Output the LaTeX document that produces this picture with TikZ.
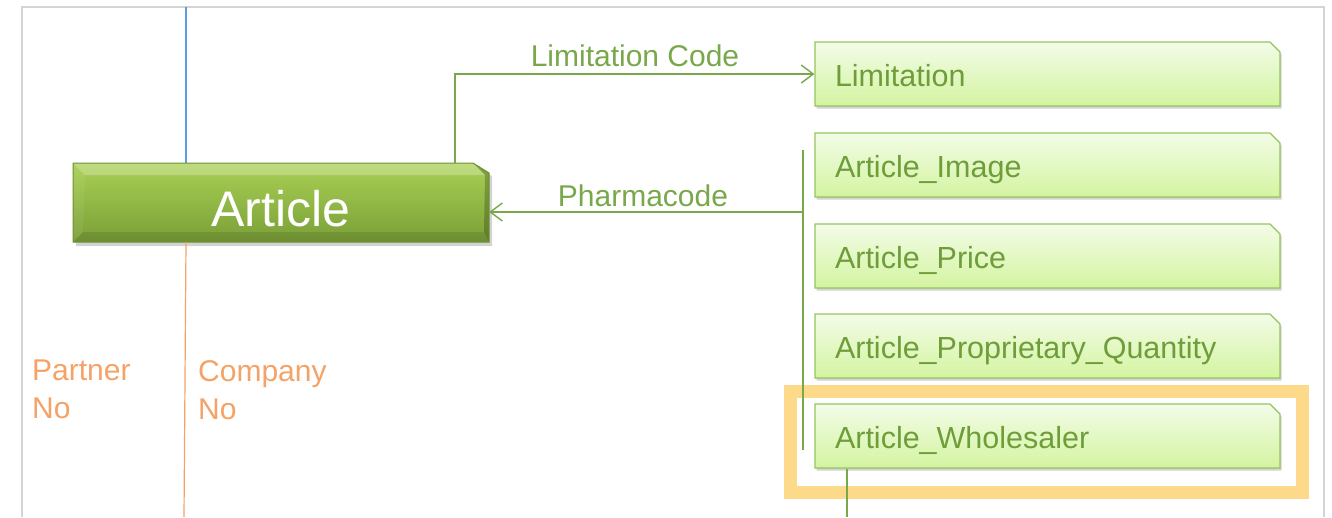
\documentclass[tikz,border=0pt]{standalone}
\usepackage{fontspec}
\setmainfont{Liberation Sans}
\usetikzlibrary{shapes.misc,shadows,arrows.meta}
\definecolor{frameC}{HTML}{D4D4D4}
\definecolor{boxTop}{HTML}{F3FCE8}
\definecolor{boxBot}{HTML}{D3F4A0}
\definecolor{boxLine}{HTML}{94C45E}
\definecolor{boxText}{HTML}{6F9D3A}
\definecolor{connC}{HTML}{78A84A}
\definecolor{artTop}{HTML}{A9D055}
\definecolor{artBot}{HTML}{7A9F37}
\definecolor{artLine}{HTML}{6C922F}
\definecolor{blueC}{HTML}{5D9CE2}
\definecolor{orangeC}{HTML}{F4A266}
\definecolor{hiC}{HTML}{FDDA8A}
\newcommand{\boxtext}[1]{\makebox[425pt][l]{\smash{\raisebox{-12.5pt}{#1}}}}
\tikzset{
  tablebox/.style={chamfered rectangle, chamfered rectangle corners=north east,
    chamfered rectangle xsep=11pt, chamfered rectangle ysep=10pt,
    draw=boxLine, line width=1.2pt, top color=boxTop, bottom color=boxBot,
    minimum width=465pt, minimum height=64pt, inner xsep=20pt, inner ysep=0pt,
    text=boxText, font=\fontsize{30.5}{36}\selectfont,
    drop shadow={opacity=0.35, shadow xshift=1.5pt, shadow yshift=-2.5pt}},
  conn/.style={draw=connC, line width=1.4pt},
  arr/.style={conn, -{Straight Barb[length=12pt,width=18pt,line width=1.4pt]}},
  lbl/.style={text=connC, font=\fontsize{30}{36}\selectfont, inner sep=0pt},
  olbl/.style={text=orangeC, font=\fontsize{30}{38}\selectfont, align=left, anchor=north west, inner sep=0pt},
}
\begin{document}
\begin{tikzpicture}[x=1pt,y=-1pt]
\useasboundingbox (0,0) rectangle (1332,517);
% frame
\draw[frameC, line width=1.5pt] (22,517) -- (22,7) -- (1324,7) -- (1324,517);
% highlight
\draw[hiC, line width=13pt] (790.5,391) rectangle (1302.5,492);
% main Article box
\fill[gray, opacity=0.35] (76,166) -- (476,166) -- (492,176) -- (492,246) -- (76,246) -- cycle;
\shade[top color=artTop, bottom color=artBot] (73,163) -- (473,163) -- (489,173) -- (489,242) -- (73,242) -- cycle;
\fill[white, opacity=0.25] (73,163) -- (473,163) -- (485,175) -- (85,175) -- cycle;
\fill[black, opacity=0.22] (473,163) -- (489,173) -- (489,242) -- (484,232) -- (485,175) -- cycle;
\fill[black, opacity=0.10] (73,242) -- (489,242) -- (484,232) -- (83,232) -- cycle;
\fill[white, opacity=0.06] (73,163) -- (85,175) -- (83,232) -- (73,242) -- cycle;
\draw[artLine, line width=1pt] (73,163) -- (473,163) -- (489,173) -- (489,242) -- (73,242) -- cycle;
\node[minimum width=416pt, minimum height=79pt, inner sep=0pt, text=white,
  font=\fontsize{50}{60}\selectfont] (article) at (281,202.5) {\smash{\raisebox{-23.5pt}{Article}}};
% right boxes
\node[tablebox] (lim) at (1047.5,74)  {\boxtext{Limitation}};
\node[tablebox] (img) at (1047.5,165) {\boxtext{Article\_Image}};
\node[tablebox] (prc) at (1047.5,256) {\boxtext{Article\_Price}};
\node[tablebox] (pq)  at (1047.5,346) {\boxtext{Article\_Proprietary\_Quantity}};
\node[tablebox] (wh)  at (1047.5,436) {\boxtext{Article\_Wholesaler}};
% vertical lines at left
\coordinate (blueTop) at (186,7);
\draw[blueC, line width=1.2pt] (blueTop) -- (blueTop |- article.north);
\coordinate (orBot) at (184,517);
\draw[orangeC, line width=1.2pt] (186,0 |- article.south) -- (orBot);
\node[olbl] (partner) at (32,360) {Partner\\No};
\node[olbl] (company) at (198,360) {Company\\No};
% Limitation code connector
\coordinate (lc) at (455,0);
\draw[arr] (lc |- article.north) |- (lim.west);
\node[lbl] (lclbl) at (635,56) {Limitation Code};
% Pharmacode bus
\coordinate (busTop) at (803,150);
\coordinate (busBot) at (803,450);
\coordinate (busMid) at (803,212);
\draw[conn] (busTop) -- (busBot);
\draw[arr] (busMid) -- (busMid -| article.east);
\node[lbl] (pclbl) at (643,196) {Pharmacode};
% lower line
\coordinate (lowEnd) at (847,517);
\draw[conn] (lowEnd |- wh.south) -- (lowEnd);
\end{tikzpicture}
\end{document}
